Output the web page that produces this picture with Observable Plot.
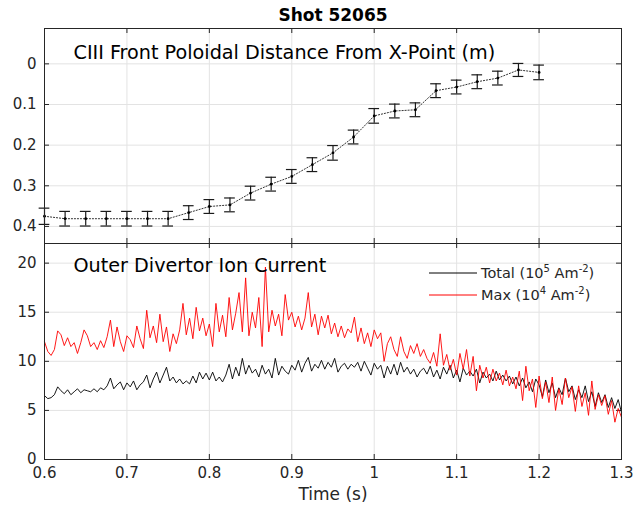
<!DOCTYPE html>
<html>
<head>
<meta charset="utf-8">
<script src="https://cdn.jsdelivr.net/npm/d3@7"></script>
<script src="https://cdn.jsdelivr.net/npm/@observablehq/plot@0.6"></script>
<style>
  body { margin: 0; background: #fff; }
  #wrap { position: relative; width: 634px; height: 509px; background: #fff; }
  #wrap svg { position: absolute; left: 0; }
</style>
</head>
<body>
<div id="wrap"></div>
<script>
// ---- Top panel: CIII front distance (m) with error bars ----
const frontTime = [0.6, 0.625, 0.65, 0.675, 0.7, 0.725, 0.75, 0.775, 0.8, 0.825, 0.85, 0.875, 0.9,
  0.925, 0.95, 0.975, 1.0, 1.025, 1.05, 1.075, 1.1, 1.125, 1.15, 1.175, 1.2];
const frontDist = [0.375, 0.381, 0.381, 0.381, 0.381, 0.381, 0.381, 0.366, 0.351, 0.347, 0.318, 0.296, 0.277,
  0.248, 0.219, 0.180, 0.128, 0.116, 0.113, 0.066, 0.057, 0.044, 0.035, 0.015, 0.021];
const frontErr = [0.020, 0.018, 0.018, 0.018, 0.018, 0.018, 0.018, 0.017, 0.017, 0.017, 0.017, 0.017, 0.017,
  0.017, 0.018, 0.017, 0.018, 0.017, 0.017, 0.017, 0.017, 0.017, 0.017, 0.016, 0.018];

// ---- Bottom panel: ion current signals, sampled every 4 ms from 0.6 s ----
const sampleStart = 0.6, sampleStep = 0.004;
const totalCurrent = [
  6.5, 6.2, 6.3, 6.6, 7.4, 7.0, 6.7, 7.1, 6.6, 6.9,
  7.2, 6.8, 7.1, 7.0, 6.9, 7.2, 6.9, 7.3, 7.1, 7.5,
  8.3, 7.2, 7.6, 7.9, 7.1, 7.8, 7.4, 8.0, 7.1, 7.6,
  7.9, 8.6, 7.3, 8.2, 8.9, 7.8, 8.6, 9.4, 8.0, 8.4,
  7.8, 8.2, 7.7, 8.0, 7.7, 8.5, 7.8, 8.9, 8.2, 8.8,
  8.1, 8.9, 8.0, 8.4, 7.9, 8.6, 9.7, 8.2, 9.4, 8.5,
  10.3, 8.7, 9.6, 8.8, 9.2, 8.4, 9.6, 8.7, 9.2, 8.3,
  10.3, 8.6, 9.5, 9.0, 8.7, 9.6, 9.1, 10.1, 8.9, 9.8,
  10.4, 9.0, 9.7, 9.3, 10.1, 9.2, 9.9, 9.4, 10.3, 8.9,
  9.5, 9.8, 9.2, 9.7, 9.4, 9.9, 9.0, 10.0, 9.3, 8.6,
  9.8, 9.2, 9.6, 8.3, 9.5, 8.7, 9.7, 8.6, 9.9, 8.9,
  9.4, 8.7, 9.2, 8.4, 9.0, 9.3, 8.7, 9.5, 8.4, 9.1,
  8.2, 9.4, 8.7, 9.6, 8.3, 9.1, 7.9, 9.3, 8.6, 9.0,
  8.5, 9.2, 7.8, 8.9, 8.3, 8.7, 8.0, 9.0, 8.1, 8.6,
  8.0, 8.5, 7.7, 8.4, 7.5, 8.3, 7.3, 7.9, 6.9, 8.2,
  7.6, 6.4, 8.1, 6.8, 7.8, 6.3, 7.3, 6.6, 8.3, 6.9,
  7.5, 6.1, 7.1, 6.3, 7.5, 5.9, 6.9, 5.4, 6.8, 5.8,
  6.6, 5.3, 6.3, 5.2, 6.1, 4.8
];
const maxCurrent = [
  12.0, 11.0, 10.6, 11.2, 13.1, 12.7, 11.6, 12.4, 11.5, 11.9,
  10.8, 11.9, 13.2, 12.6, 11.5, 11.9, 11.2, 12.1, 11.4, 12.5,
  14.2, 11.5, 13.5, 12.0, 11.0, 12.6, 12.2, 11.4, 13.6, 12.3,
  11.3, 15.2, 12.4, 13.6, 11.9, 14.8, 12.0, 13.5, 11.0, 12.8,
  11.8, 13.2, 15.9, 12.7, 14.4, 12.3, 15.5, 13.1, 14.4, 12.6,
  13.8, 11.5, 15.9, 13.0, 14.7, 12.5, 16.5, 13.2, 14.9, 17.0,
  13.0, 18.5, 12.6, 15.0, 13.4, 16.5, 11.5, 19.6, 13.0, 15.2,
  13.6, 14.8, 12.6, 16.8, 14.2, 15.0, 13.5, 14.6, 13.2, 14.4,
  17.0, 13.5, 14.8, 12.7, 14.6, 13.4, 14.7, 12.8, 13.9, 12.5,
  13.6, 12.4, 13.3, 12.9, 14.5, 12.0, 13.4, 11.8, 12.9, 11.5,
  13.2, 12.3, 12.9, 10.0, 11.8, 12.5, 11.2, 10.5, 12.5, 11.0,
  10.3, 11.6, 10.8, 11.8, 10.5, 11.2, 10.3, 9.8, 10.9, 9.5,
  12.8, 9.6, 10.7, 9.1, 10.2, 8.6, 10.8, 9.2, 11.2, 8.5,
  10.5, 7.0, 9.6, 8.3, 9.4, 7.8, 9.2, 8.0, 8.8, 7.6,
  9.1, 7.5, 8.4, 7.2, 9.0, 6.0, 9.5, 7.0, 8.2, 5.3,
  8.5, 6.2, 7.9, 5.8, 8.4, 5.0, 7.2, 5.6, 8.3, 6.3,
  7.4, 4.9, 7.5, 5.4, 6.8, 4.5, 8.0, 5.1, 6.6, 5.5,
  6.5, 4.6, 6.0, 3.8, 5.2, 4.3
];

const xTicks = [0.6, 0.7, 0.8, 0.9, 1.0, 1.1, 1.2, 1.3];
const yTicksTop = [0, 0.1, 0.2, 0.3, 0.4];
const yTicksBottom = [0, 5, 10, 15, 20];
const titleText = "Shot 52065";
const topLabel = "CIII Front Poloidal Distance From X-Point (m)";
const bottomLabel = "Outer Divertor Ion Current";
const xLabel = "Time (s)";

// ---- tables built from arrays ----
const front = frontTime.map((t, i) => ({t, d: frontDist[i], e: frontErr[i]}));
const sig = totalCurrent.map((v, i) => ({t: sampleStart + i * sampleStep, total: v, max: maxCurrent[i]}));

const W = 634, ML = 44, MR = 13;
const innerW = W - ML - MR;
const FONT = "DejaVu Sans";
const AX = "#262626";
const GRID = "#e3e3e3";
const fmt = d => String(+d.toFixed(1));
const capHalf = 0.0065;

// top panel
const H1 = 243, MT1 = 28, MB1 = 0;
const innerH1 = H1 - MT1 - MB1;
const topPlot = Plot.plot({
  width: W, height: H1,
  marginTop: MT1, marginBottom: MB1, marginLeft: ML, marginRight: MR,
  style: {fontFamily: FONT, fontSize: "15px", color: AX, background: "transparent", overflow: "visible"},
  x: {domain: [0.6, 1.3], axis: null},
  y: {domain: [-0.087, 0.442], reverse: true, axis: null},
  marks: [
    Plot.ruleX(xTicks, {x: d => d, stroke: GRID, strokeWidth: 1}),
    Plot.ruleY(yTicksTop, {y: d => d, stroke: GRID, strokeWidth: 1}),
    Plot.tickX(xTicks, {x: d => d, insetTop: innerH1 - 5, stroke: AX}),
    Plot.tickX(xTicks, {x: d => d, insetBottom: innerH1 - 5, stroke: AX}),
    Plot.tickY(yTicksTop, {y: d => d, insetRight: innerW - 5, stroke: AX}),
    Plot.tickY(yTicksTop, {y: d => d, insetLeft: innerW - 5, stroke: AX}),
    Plot.axisY(yTicksTop, {ticks: yTicksTop, tickSize: 0, tickPadding: 8, tickFormat: fmt, label: null, fontSize: 15}),
    Plot.line(front, {x: "t", y: "d", stroke: "#000", strokeWidth: 0.8, strokeDasharray: "1.2,1.8"}),
    Plot.ruleX(front, {x: "t", y1: d => d.d - d.e, y2: d => d.d + d.e, stroke: "#1a1a1a", strokeWidth: 1.2}),
    Plot.ruleY(front, {y: d => d.d - d.e, x1: d => d.t - capHalf, x2: d => d.t + capHalf, stroke: "#1a1a1a", strokeWidth: 1.2}),
    Plot.ruleY(front, {y: d => d.d + d.e, x1: d => d.t - capHalf, x2: d => d.t + capHalf, stroke: "#1a1a1a", strokeWidth: 1.2}),
    Plot.dot(front, {x: "t", y: "d", r: 1.4, fill: "#000", stroke: null}),
    Plot.frame({stroke: AX, strokeWidth: 1}),
    Plot.text([topLabel], {frameAnchor: "top-left", dx: 29, dy: 17, text: d => d, fontSize: 19.2, fill: "#000", textAnchor: "start", lineAnchor: "top"}),
    Plot.text([titleText], {frameAnchor: "top", dy: -20, text: d => d, fontSize: 17, fontWeight: "bold", fill: "#000", lineAnchor: "top"})
  ]
});

// bottom panel
const H2 = 509 - 243, MT2 = 0, MB2 = H2 - (459 - 243);
const innerH2 = H2 - MT2 - MB2;
const bottomPlot = Plot.plot({
  width: W, height: H2,
  marginTop: MT2, marginBottom: MB2, marginLeft: ML, marginRight: MR,
  style: {fontFamily: FONT, fontSize: "15px", color: AX, background: "transparent", overflow: "visible"},
  x: {domain: [0.6, 1.3], axis: null},
  y: {domain: [0, 22], axis: null},
  marks: [
    Plot.ruleX(xTicks, {x: d => d, stroke: GRID, strokeWidth: 1}),
    Plot.ruleY(yTicksBottom, {y: d => d, stroke: GRID, strokeWidth: 1}),
    Plot.tickX(xTicks, {x: d => d, insetTop: innerH2 - 5, stroke: AX}),
    Plot.tickX(xTicks, {x: d => d, insetBottom: innerH2 - 5, stroke: AX}),
    Plot.tickY(yTicksBottom, {y: d => d, insetRight: innerW - 5, stroke: AX}),
    Plot.tickY(yTicksBottom, {y: d => d, insetLeft: innerW - 5, stroke: AX}),
    Plot.axisY(yTicksBottom, {ticks: yTicksBottom, tickSize: 0, tickPadding: 8, tickFormat: fmt, label: null, fontSize: 15}),
    Plot.axisX(xTicks, {ticks: xTicks, tickSize: 0, tickPadding: 8, tickFormat: fmt, label: null, fontSize: 15}),
    Plot.line(sig, {x: "t", y: "total", stroke: "#000", strokeWidth: 0.9}),
    Plot.line(sig, {x: "t", y: "max", stroke: "#ff0000", strokeWidth: 0.9}),
    Plot.frame({stroke: AX, strokeWidth: 1}),
    Plot.text([bottomLabel], {frameAnchor: "top-left", dx: 29, dy: 15, text: d => d, fontSize: 19.2, fill: "#000", textAnchor: "start", lineAnchor: "top"}),
    Plot.text([xLabel], {frameAnchor: "bottom", dy: 28, text: d => d, fontSize: 17, fill: AX, lineAnchor: "top"})
  ]
});

const wrap = document.getElementById("wrap");
topPlot.style.top = "0px";
bottomPlot.style.top = "243px";
wrap.appendChild(topPlot);
wrap.appendChild(bottomPlot);

// legend (inside the bottom panel, top-right)
const legendItems = [
  {name: "Total", exp: "5", color: "#000"},
  {name: "Max", exp: "4", color: "#ff0000"}
];
const lg = d3.select(bottomPlot).append("g")
  .attr("font-family", FONT).attr("font-size", 14.5).attr("fill", AX).attr("text-anchor", "start");
legendItems.forEach((it, i) => {
  const y = 30 + i * 22;
  lg.append("line").attr("x1", 429).attr("x2", 477).attr("y1", y).attr("y2", y)
    .attr("stroke", it.color).attr("stroke-width", 1);
  const t = lg.append("text").attr("x", 481).attr("y", y + 5).attr("text-anchor", "start");
  t.append("tspan").text(it.name + " (10");
  t.append("tspan").attr("dy", -6).attr("font-size", 10).text(it.exp);
  t.append("tspan").attr("dy", 6).text(" Am");
  t.append("tspan").attr("dy", -6).attr("font-size", 10).text("-2");
  t.append("tspan").attr("dy", 6).text(")");
});
</script>
</body>
</html>
